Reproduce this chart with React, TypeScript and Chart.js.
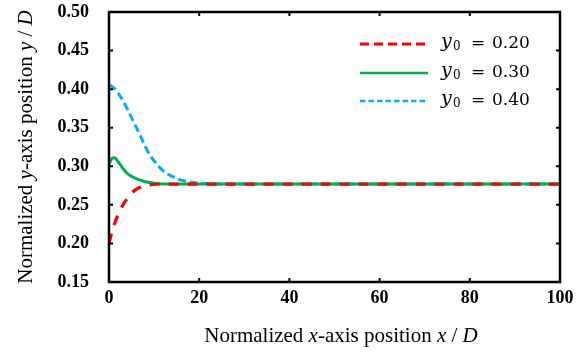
import React, { useEffect, useRef } from "react";
import { Chart, registerables } from "chart.js";

Chart.register(...registerables);

const xPositions = [0, 0.5, 1, 1.5, 2, 3, 4, 5, 6, 7, 8, 9, 10, 11, 12, 13, 14, 15, 16, 18, 20, 22, 25, 30, 40, 50, 60, 70, 80, 90, 100];
const y020 = [0.200, 0.212, 0.222, 0.230, 0.237, 0.249, 0.258, 0.265, 0.270, 0.273, 0.275, 0.276, 0.2765, 0.277, 0.277, 0.277, 0.277, 0.277, 0.277, 0.277, 0.277, 0.277, 0.277, 0.277, 0.277, 0.277, 0.277, 0.277, 0.277, 0.277, 0.277];
const y030 = [0.302, 0.309, 0.311, 0.310, 0.306, 0.298, 0.291, 0.287, 0.284, 0.282, 0.280, 0.279, 0.278, 0.2775, 0.277, 0.277, 0.277, 0.277, 0.277, 0.277, 0.277, 0.277, 0.277, 0.277, 0.277, 0.277, 0.277, 0.277, 0.277, 0.277, 0.277];
const y040 = [0.405, 0.404, 0.402, 0.399, 0.395, 0.386, 0.375, 0.363, 0.351, 0.339, 0.326, 0.315, 0.307, 0.300, 0.294, 0.290, 0.287, 0.284, 0.282, 0.2795, 0.278, 0.2775, 0.277, 0.277, 0.277, 0.277, 0.277, 0.277, 0.277, 0.277, 0.277];
const seriesLabels = ["0.20", "0.30", "0.40"];
const seriesColors = ["#FF0000", "#00B050", "#00B0F0"];
const xTicks = [0, 20, 40, 60, 80, 100];
const yTicks = [0.15, 0.2, 0.25, 0.3, 0.35, 0.4, 0.45, 0.5];

const SERIF = '"Liberation Serif", "Times New Roman", serif';

function toPoints(ys: number[]) {
  return xPositions.map((x, i) => ({ x, y: ys[i] }));
}

const framePlugin = {
  id: "framePlugin",
  afterDatasetsDraw(chart: any) {
    const { ctx, chartArea } = chart;
    const { left, right, top, bottom } = chartArea;
    const xs = chart.scales.x;
    const ys = chart.scales.y;
    ctx.save();
    ctx.strokeStyle = "#000";
    ctx.lineWidth = 2;
    const tl = 4;
    ctx.beginPath();
    for (const v of xTicks) {
      const px = xs.getPixelForValue(v);
      if (v === 0 || v === 100) continue;
      ctx.moveTo(px, bottom);
      ctx.lineTo(px, bottom - tl);
      ctx.moveTo(px, top);
      ctx.lineTo(px, top + tl);
    }
    for (const v of yTicks) {
      const py = ys.getPixelForValue(v);
      ctx.moveTo(left, py);
      ctx.lineTo(left + tl, py);
      ctx.moveTo(right, py);
      ctx.lineTo(right - tl, py);
    }
    ctx.stroke();
    ctx.lineWidth = 2.5;
    ctx.strokeRect(left, top, right - left, bottom - top);

    // legend
    const rows = [
      { lineY: 44, base: 48, dash: [9, 5], width: 3 },
      { lineY: 73, base: 77, dash: [], width: 2.7 },
      { lineY: 101, base: 105, dash: [5.5, 3], width: 2.5 },
    ];
    rows.forEach((r, i) => {
      ctx.save();
      ctx.strokeStyle = seriesColors[i];
      ctx.lineWidth = r.width;
      ctx.setLineDash(r.dash);
      ctx.beginPath();
      ctx.moveTo(360, r.lineY);
      ctx.lineTo(428, r.lineY);
      ctx.stroke();
      ctx.restore();
      ctx.fillStyle = "#000";
      ctx.textBaseline = "alphabetic";
      ctx.textAlign = "left";
      ctx.font = 'italic 19px "DejaVu Serif", serif';
      ctx.fillText("y", 441, r.base - 1);
      ctx.font = '12px "DejaVu Serif", serif';
      ctx.fillText("0", 453, r.base + 2);
      ctx.font = '17px "DejaVu Serif", serif';
      ctx.fillText("=", 471, r.base);
      ctx.fillText(seriesLabels[i], 492, r.base);
    });

    // axis titles
    const drawRich = (parts: [string, boolean][], cx: number, cy: number) => {
      const size = 21;
      let total = 0;
      const widths = parts.map(([t, it]) => {
        ctx.font = `${it ? "italic " : ""}${size}px ${SERIF}`;
        const w = ctx.measureText(t).width;
        total += w;
        return w;
      });
      let x = cx - total / 2;
      ctx.textAlign = "left";
      ctx.textBaseline = "alphabetic";
      parts.forEach(([t, it], i) => {
        ctx.font = `${it ? "italic " : ""}${size}px ${SERIF}`;
        ctx.fillText(t, x, cy);
        x += widths[i];
      });
    };
    ctx.fillStyle = "#000";
    drawRich(
      [["Normalized ", false], ["x", true], ["-axis position ", false], ["x", true], [" / ", false], ["D", true]],
      341,
      342
    );
    ctx.save();
    ctx.translate(32, 147);
    ctx.rotate(-Math.PI / 2);
    drawRich(
      [["Normalized ", false], ["y", true], ["-axis position ", false], ["y", true], [" / ", false], ["D", true]],
      0,
      0
    );
    ctx.restore();
    ctx.restore();
  },
};

export default function App() {
  const ref = useRef<HTMLCanvasElement>(null);
  useEffect(() => {
    document.body.style.margin = "0";
    const c = ref.current!;
    const chart = new Chart(c, {
      type: "line",
      data: {
        datasets: [
          {
            label: "y0 = 0.20",
            data: toPoints(y020),
            borderColor: seriesColors[0],
            borderWidth: 3.2,
            borderDash: [10, 9],
            pointRadius: 0,
            cubicInterpolationMode: "monotone",
          },
          {
            label: "y0 = 0.30",
            data: toPoints(y030),
            borderColor: seriesColors[1],
            borderWidth: 3,
            pointRadius: 0,
            cubicInterpolationMode: "monotone",
          },
          {
            label: "y0 = 0.40",
            data: toPoints(y040),
            borderColor: seriesColors[2],
            borderWidth: 3,
            borderDash: [8, 4],
            pointRadius: 0,
            cubicInterpolationMode: "monotone",
          },
        ],
      },
      options: {
        responsive: false,
        animation: false,
        layout: { padding: { left: 0, right: 20, top: 12, bottom: 0 } },
        plugins: { legend: { display: false }, tooltip: { enabled: false } },
        scales: {
          x: {
            type: "linear",
            min: 0,
            max: 100,
            afterFit: (s: any) => {
              s.height = 70;
              s.paddingLeft = 0;
              s.paddingRight = 0;
            },
            afterBuildTicks: (s: any) => {
              s.ticks = xTicks.map((v) => ({ value: v }));
            },
            grid: { display: false, drawTicks: false },
            border: { display: false },
            ticks: {
              padding: 6,
              color: "#000",
              font: { family: SERIF, size: 18, weight: "bold" },
              maxRotation: 0,
              callback: (v: any) => String(v),
            },
          },
          y: {
            type: "linear",
            min: 0.15,
            max: 0.5,
            afterFit: (s: any) => {
              s.width = 109;
              s.paddingTop = 0;
              s.paddingBottom = 0;
            },
            afterBuildTicks: (s: any) => {
              s.ticks = yTicks.map((v) => ({ value: v }));
            },
            grid: { display: false, drawTicks: false },
            border: { display: false },
            ticks: {
              padding: 20,
              color: "#000",
              font: { family: SERIF, size: 18, weight: "bold" },
              callback: (v: any) => Number(v).toFixed(2),
            },
          },
        },
      },
      plugins: [framePlugin],
    } as any);
    return () => chart.destroy();
  }, []);
  return (
    <div style={{ position: "absolute", left: 0, top: 0, width: 580, height: 352 }}>
      <canvas ref={ref} width={580} height={352} />
    </div>
  );
}
